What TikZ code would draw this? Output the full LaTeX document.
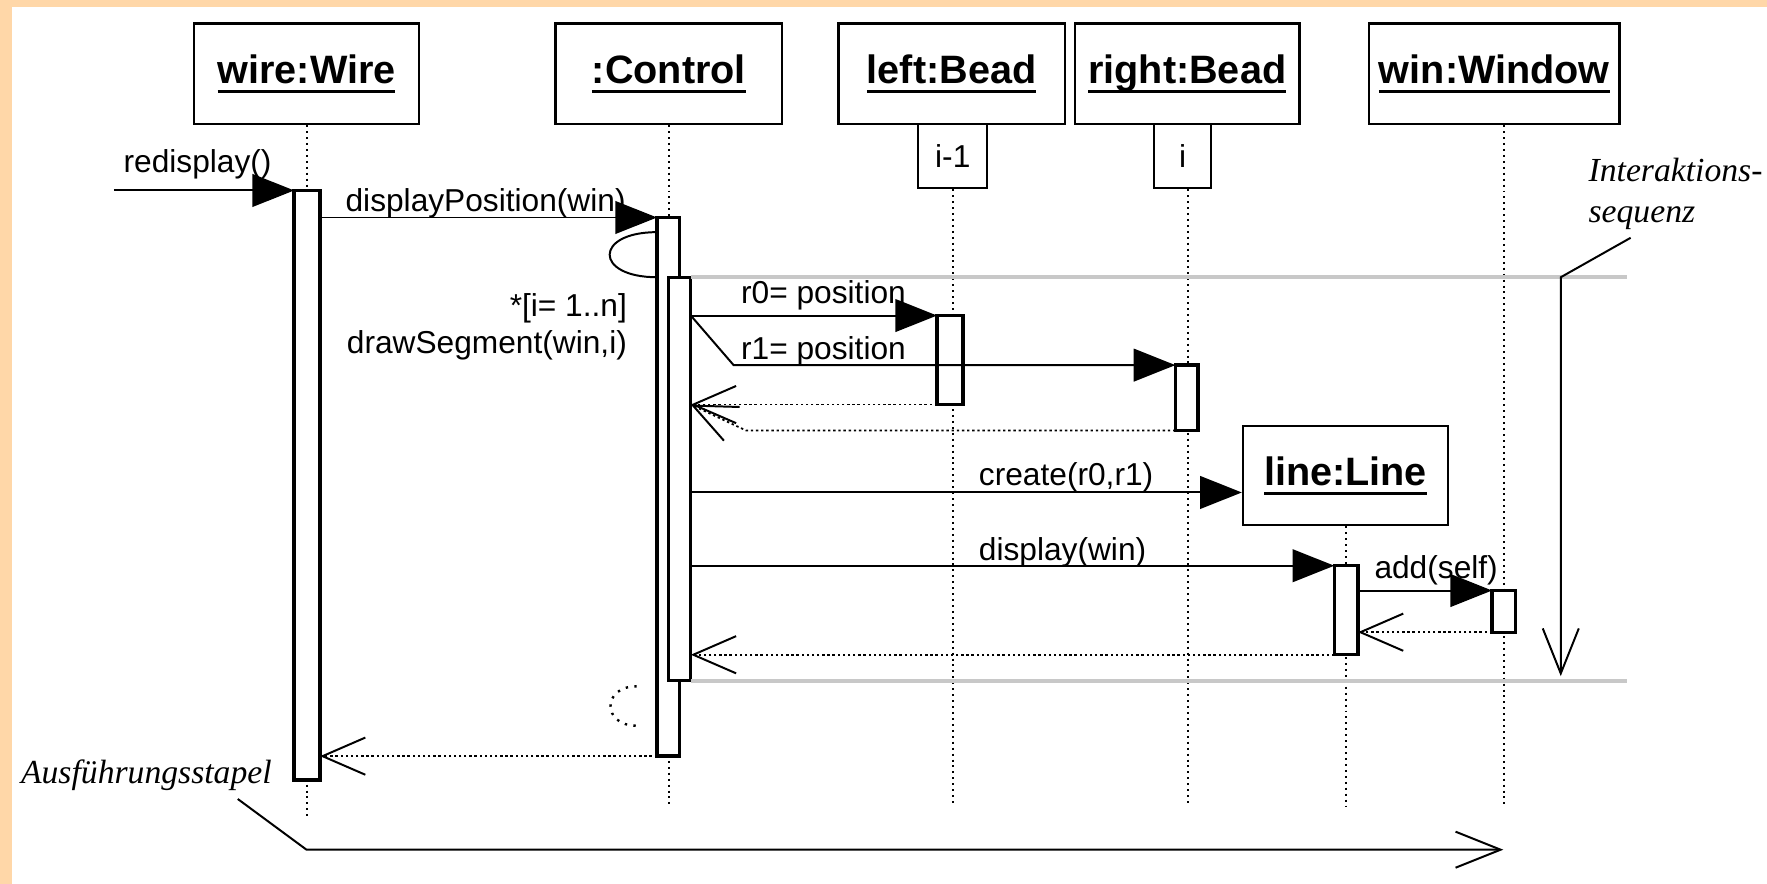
\documentclass[tikz,border=0pt]{standalone}
\usepackage{fontspec}
\setmainfont{Liberation Sans}
\newfontfamily\notefont{Liberation Serif}
\usetikzlibrary{arrows.meta}
\definecolor{framepeach}{HTML}{FFD7A8}
\definecolor{phasegray}{HTML}{C8C8C8}
\definecolor{seqink}{HTML}{000000}

% 物件名稱: 粗體, 下方一條粗底線 (不受下伸部影響)
\newcommand{\objname}[1]{%
  \setbox0=\hbox{\fontsize{10}{12}\selectfont\bfseries #1}%
  \dp0=0pt \dimen0=\wd0
  \vtop{\box0\kern1.6pt\hrule height 0.8pt width \dimen0}}

\begin{document}
\begin{tikzpicture}[
  x=0.1mm,
  y=-0.1mm,
  every node/.style={font=\fontsize{8}{9.6}\selectfont, seqink},
  objbox/.style={draw, line width=0.6pt, fill=white, inner sep=0pt,
                 minimum height=8.9mm},
  indexbox/.style={draw, line width=0.5pt, fill=white, inner sep=0pt,
                   minimum height=5.7mm},
  lifeline/.style={seqink, line width=0.5pt, dash pattern=on 0.5pt off 1pt},
  actbar/.style={draw, line width=0.85pt, fill=white, inner sep=0pt,
                 outer sep=0pt, minimum width=2.1mm, anchor=north},
  call/.style={seqink, line width=0.5pt,
               -{Triangle[length=3.7mm, width=2.9mm]}},
  reply/.style={seqink, line width=0.45pt, dash pattern=on 0.6pt off 0.7pt,
                -{Straight Barb[length=3.8mm, width=3.3mm, line width=0.5pt]}},
  selfcall/.style={seqink, line width=0.5pt},
  selfback/.style={seqink, line width=0.6pt, dash pattern=on 0.6pt off 1.6pt},
  phase/.style={phasegray, line width=1pt},
  msglabel/.style={anchor=base west, inner sep=0pt},
  note/.style={font=\notefont\itshape\fontsize{8.5}{10.2}\selectfont,
               anchor=base west, inner sep=0pt},
  notearrow/.style={seqink, line width=0.5pt,
                    -{Straight Barb[length=4mm, width=3.2mm]}}
]

  %% ---- 底色與左上的邊框 ---------------------------------------------
  \useasboundingbox (0,0) rectangle (1568,784);
  \fill[framepeach] (0,0) rectangle (1568,784);
  \fill[white] (10.6,6.2) rectangle (1568,784);

  %% ---- 物件方框 -------------------------------------------------------
  \node[objbox, minimum width=20mm]   (wireobj)  at (272,65.5)    {\objname{wire:Wire}};
  \node[objbox, minimum width=20.1mm] (ctrlobj)  at (593.5,65.5)  {\objname{:Control}};
  \node[objbox, minimum width=20.1mm] (leftobj)  at (844.5,65.5)  {\objname{left:Bead}};
  \node[objbox, minimum width=19.9mm] (rightobj) at (1053.5,65.5) {\objname{right:Bead}};
  \node[objbox, minimum width=22.2mm] (winobj)   at (1326,65.5)   {\objname{win:Window}};
  \node[objbox, minimum width=18.2mm, minimum height=8.8mm]
    (lineobj) at (1194,422) {\objname{line:Line}};

  % 兩個索引小框, 上緣貼著物件框
  \node[indexbox, minimum width=6.1mm] (leftidx)  at (845.5,138.5)  {i-1};
  \node[indexbox, minimum width=5.1mm] (rightidx) at (1049.5,138.5) {i};

  %% ---- 生命線 ---------------------------------------------------------
  \draw[lifeline] (wireobj.south) -- (wireobj.south |- 0,725);
  \draw[lifeline] (ctrlobj.south) -- (ctrlobj.south |- 0,716);
  \draw[lifeline] (leftidx.south) -- (leftidx.south |- 0,716);
  \draw[lifeline] (1054,0 |- rightidx.south) -- (1054,716);
  \draw[lifeline] (1335,0 |- winobj.south) -- (1335,716);
  \draw[lifeline] (lineobj.south) -- (lineobj.south |- 0,716);

  %% ---- 自我呼叫的弧線 (在啟動條之前畫) -------------------------------
  \draw[selfcall] (583,206) .. controls (527,206) and (527,246) .. (583,246);
  \draw[selfback] (565,609) .. controls (534,609) and (534,644) .. (565,644);

  %% ---- 啟動條 ---------------------------------------------------------
  \node[actbar, minimum width=2.3mm, minimum height=52.3mm] (wirebar) at (272.5,169) {};
  \node[actbar, minimum width=2.0mm, minimum height=47.8mm] (ctrlouter) at (593,193) {};
  \node[actbar, minimum width=2.0mm, minimum height=35.8mm] (ctrlinner) at (603,246) {};
  \node[actbar, minimum width=2.3mm, minimum height=7.9mm]  (leftbar) at (843,280) {};
  \node[actbar, minimum width=2.0mm, minimum height=5.8mm]  (rightbar) at (1053,324) {};
  \node[actbar, minimum height=7.9mm] (linebar) at (1194.5,502) {};
  \node[actbar, minimum height=3.7mm] (winbar) at (1334.5,524) {};

  %% ---- 迴圈區段的兩條灰線 ---------------------------------------------
  \draw[phase] (ctrlinner.north east) -- (1444,0 |- ctrlinner.north);
  \draw[phase] (ctrlinner.south east) -- (1444,0 |- ctrlinner.south);

  %% ---- 訊息 -----------------------------------------------------------
  \coordinate (inflow) at (101,169);
  \draw[call] (inflow) -- (wirebar.north west);
  \node[msglabel] (lblredisp) at (109,153) {redisplay()};

  \draw[call] (wirebar.east |- ctrlouter.north) -- (ctrlouter.north west);
  \node[msglabel] (lbldisppos) at (306,188) {displayPosition(win)};

  \node[msglabel, anchor=base east] (lblloop) at (557,281) {*[i= 1..n]};
  \node[msglabel, anchor=base east] (lblseg)  at (557,314) {drawSegment(win,i)};

  \draw[call] (ctrlinner.east |- leftbar.north) -- (leftbar.north west);
  \node[msglabel] (lblrzero) at (657,269) {r0= position};

  \draw[call] (ctrlinner.east |- leftbar.north) -- (651,0 |- rightbar.north)
    -- (rightbar.north west);
  \node[msglabel] (lblrone) at (657,319) {r1= position};

  \draw[reply] (leftbar.south west) -- (ctrlinner.east |- leftbar.south);
  \draw[reply] (rightbar.south west) -- (662,0 |- rightbar.south)
    -- (ctrlinner.east |- leftbar.south);

  \draw[call] (ctrlinner.east |- 0,437) -- (lineobj.west |- 0,437);
  \node[msglabel] (lblcreate) at (868,431) {create(r0,r1)};

  \draw[call] (ctrlinner.east |- linebar.north) -- (linebar.north west);
  \node[msglabel] (lbldisplay) at (868,497) {display(win)};

  \draw[call] (linebar.east |- winbar.north) -- (winbar.north west);
  \node[msglabel] (lbladd) at (1219,513) {add(self)};

  \draw[reply] (winbar.south west) -- (linebar.east |- winbar.south);
  \draw[reply] (linebar.south west) -- (ctrlinner.east |- linebar.south);
  \draw[reply] (ctrlouter.south west) -- (wirebar.east |- ctrlouter.south);

  %% ---- 註解: 互動序列 與 執行堆疊 -------------------------------------
  \node[note] (noteseqa) at (1409,161) {Interaktions-};
  \node[note] (noteseqb) at (1409,197) {sequenz};
  \coordinate (seqfoot) at (1447,211);
  \draw[notearrow] (seqfoot) -- (1385,246) -- (1385,600);

  \node[note] (notestack) at (18,695) {Ausführungsstapel};
  \coordinate (stackfoot) at (211,709);
  \draw[notearrow] (stackfoot) -- (272,754) -- (1334,754);

\end{tikzpicture}
\end{document}
